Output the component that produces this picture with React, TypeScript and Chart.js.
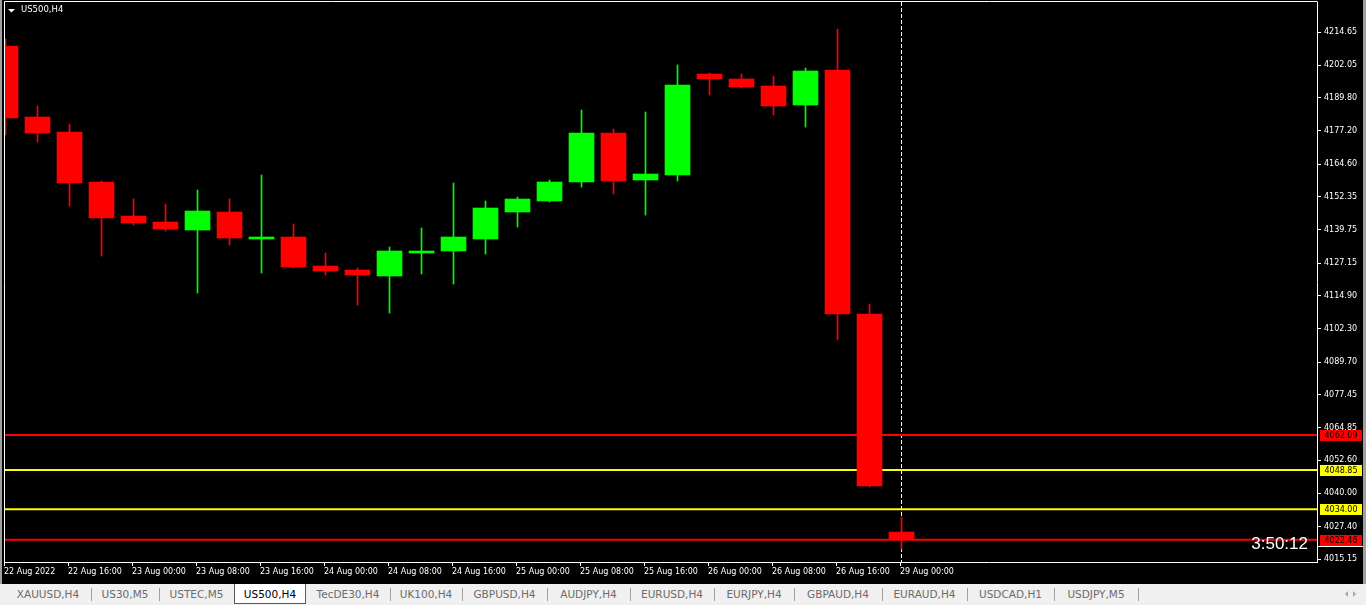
import React, { useEffect, useRef } from "react";
import { Chart, registerables } from "chart.js";

Chart.register(...registerables);

// ---- data ----
const symbolTitle = "US500,H4";
const timerText = "3:50:12";

const xTickLabels = [
  "22 Aug 2022", "22 Aug 16:00", "23 Aug 00:00", "23 Aug 08:00", "23 Aug 16:00",
  "24 Aug 00:00", "24 Aug 08:00", "24 Aug 16:00", "25 Aug 00:00", "25 Aug 08:00",
  "25 Aug 16:00", "26 Aug 00:00", "26 Aug 08:00", "26 Aug 16:00", "29 Aug 00:00",
];

const yTickValues = [
  4214.65, 4202.05, 4189.8, 4177.2, 4164.6, 4152.35, 4139.75, 4127.15, 4114.9,
  4102.3, 4089.7, 4077.45, 4064.85, 4052.6, 4040.0, 4027.4, 4015.15,
];

const opens = [
  4209.35, 4182.47, 4176.79, 4157.87, 4144.99, 4142.72, 4139.69, 4146.51, 4136.29, 4137.05,
  4126.07, 4124.55, 4122.28, 4130.99, 4131.75, 4136.29, 4146.51, 4150.67, 4157.87, 4176.41,
  4158.63, 4160.52, 4198.75, 4196.86, 4194.21, 4187.02, 4200.27, 4107.9, 4025.37,
];
const highs = [
  4212.0, 4186.64, 4179.82, 4158.25, 4151.43, 4149.54, 4154.84, 4151.43, 4160.52, 4141.97,
  4130.99, 4125.31, 4133.26, 4140.45, 4157.49, 4150.67, 4152.19, 4158.63, 4185.12, 4177.93,
  4184.37, 4202.16, 4199.13, 4198.75, 4197.99, 4201.02, 4215.79, 4111.68, 4031.05,
];
const lows = [
  4175.66, 4173.01, 4148.78, 4129.85, 4141.59, 4139.32, 4115.85, 4134.02, 4123.42, 4125.31,
  4122.66, 4111.3, 4108.27, 4123.04, 4119.25, 4130.61, 4140.83, 4150.29, 4155.97, 4153.32,
  4145.37, 4158.25, 4190.8, 4193.45, 4183.23, 4178.69, 4098.05, 4042.4, 4018.93,
];
const closes = [
  4182.09, 4176.41, 4157.49, 4144.24, 4142.35, 4140.07, 4146.89, 4136.67, 4137.05, 4125.69,
  4124.17, 4122.66, 4131.75, 4131.75, 4137.05, 4148.02, 4151.43, 4157.87, 4176.41, 4158.25,
  4160.89, 4194.59, 4196.86, 4193.83, 4186.64, 4199.89, 4107.9, 4042.78, 4022.46,
];

const levelValues = [4062.09, 4048.85, 4034.0, 4022.46];
const levelColors = ["#ff0000", "#ffff00", "#ffff00", "#ff0000"];

const currentBarIndex = 28;

const tabNames = [
  "XAUUSD,H4", "US30,M5", "USTEC,M5", "US500,H4", "TecDE30,H4", "UK100,H4", "GBPUSD,H4",
  "AUDJPY,H4", "EURUSD,H4", "EURJPY,H4", "GBPAUD,H4", "EURAUD,H4", "USDCAD,H1", "USDJPY,M5",
];
const tabEdges = [5, 91, 159, 234, 306, 390, 462, 547, 630, 714, 794, 882, 967, 1054, 1138];
const activeTab = 3;

// ---- style ----
const RED = "#ff0000";
const GREEN = "#00ff00";
const FONT = "DejaVu Sans";
const CANVAS_W = 1366;
const CANVAS_H = 584;

export default function App() {
  const ref = useRef<HTMLCanvasElement>(null);

  useEffect(() => {
    document.body.style.margin = "0";
    const canvas = ref.current!;
    const idx = opens.map((_, i) => i);
    const colors = idx.map((i) => (closes[i] >= opens[i] ? GREEN : RED));
    const xMin = -1.5 / 32;
    const xMax = (1317 - 5.5) / 32;
    const yMax = 4226.01;
    const yMin = 4014.02;

    const mt4Plugin = {
      id: "mt4",
      beforeDraw(chart: any) {
        const c = chart.ctx;
        c.save();
        c.fillStyle = "#000000";
        c.fillRect(0, 0, chart.width, chart.height);
        c.fillStyle = "#a0a0a0";
        c.fillRect(0, 0, 2, chart.height);
        c.fillRect(chart.width - 3, 0, 3, chart.height);
        c.restore();
      },
      beforeDatasetsDraw(chart: any) {
        const c = chart.ctx;
        const { top, bottom } = chart.chartArea;
        const x = Math.round(chart.scales.x.getPixelForValue(currentBarIndex) - 0.5) + 0.5;
        c.save();
        c.strokeStyle = "#ffffff";
        c.lineWidth = 1;
        c.setLineDash([4, 2]);
        c.beginPath();
        c.moveTo(x, top);
        c.lineTo(x, bottom);
        c.stroke();
        c.restore();
      },
      afterDraw(chart: any) {
        const c = chart.ctx;
        const { left, top, right, bottom } = chart.chartArea;
        c.save();
        c.strokeStyle = "#ffffff";
        c.lineWidth = 1;
        c.beginPath();
        c.moveTo(left + 0.5, bottom);
        c.lineTo(left + 0.5, top - 0.5);
        c.lineTo(right + 0.5, top - 0.5);
        c.stroke();

        c.font = `8px "${FONT}"`;
        c.textAlign = "center";
        c.textBaseline = "middle";
        levelValues.forEach((v, i) => {
          const y = Math.round(chart.scales.y.getPixelForValue(v));
          c.fillStyle = levelColors[i];
          c.fillRect(right + 3, y - 5, 42, 11);
          c.fillStyle = "#000000";
          c.fillText(v.toFixed(2), right + 24, y + 0.5);
          if (i === levelValues.length - 1) {
            c.fillStyle = "#ffffff";
            c.fillRect(right + 1, y + 6, 45, 1);
          }
        });

        c.fillStyle = "#ffffff";
        c.font = `17px "Liberation Sans"`;
        c.textAlign = "right";
        c.textBaseline = "alphabetic";
        c.fillText(timerText, 1308, 549);

        c.beginPath();
        c.moveTo(8, 9);
        c.lineTo(15, 9);
        c.lineTo(11.5, 12.5);
        c.closePath();
        c.fill();
        c.font = `8.5px "${FONT}"`;
        c.textAlign = "left";
        c.textBaseline = "middle";
        c.fillText(symbolTitle, 21, 9.5);
        c.restore();
      },
    };

    const chart = new Chart(canvas, {
      type: "bar",
      data: {
        datasets: [
          {
            type: "bar",
            label: "body",
            data: idx.map((i) => ({ x: i, y: [opens[i], closes[i]] })) as any,
            backgroundColor: colors,
            barThickness: 25,
            minBarLength: 1,
            grouped: false,
            order: 1,
          } as any,
          {
            type: "bar",
            label: "wick",
            data: idx.map((i) => ({ x: i, y: [lows[i], highs[i]] })) as any,
            backgroundColor: colors,
            barThickness: 1,
            grouped: false,
            order: 2,
          } as any,
          ...levelValues.map((v, i) => ({
            type: "line",
            label: "level" + i,
            data: [
              { x: xMin, y: v },
              { x: xMax, y: v },
            ],
            borderColor: levelColors[i],
            borderWidth: 2,
            pointRadius: 0,
            order: 3,
          })) as any,
        ],
      },
      options: {
        animation: false,
        responsive: false,
        devicePixelRatio: 1,
        events: [],
        layout: { padding: { left: 4, top: 2, right: 0, bottom: 0 }, autoPadding: false },
        plugins: { legend: { display: false }, tooltip: { enabled: false } },
        scales: {
          x: {
            type: "linear",
            min: xMin,
            max: xMax,
            offset: false,
            afterFit: (s: any) => {
              s.height = CANVAS_H - 562;
              s.paddingLeft = 0;
              s.paddingRight = 0;
              s.paddingTop = 0;
              s.paddingBottom = 0;
            },
            afterBuildTicks: (s: any) => {
              s.ticks = xTickLabels.map((_, k) => ({ value: 2 * k - 1.5 / 32 }));
            },
            grid: {
              offset: false,
              drawOnChartArea: false,
              drawTicks: true,
              tickLength: 4,
              color: "#ffffff",
            },
            border: { display: true, color: "#ffffff", width: 1 },
            ticks: {
              autoSkip: false,
              maxRotation: 0,
              minRotation: 0,
              align: "start",
              padding: 1,
              color: "#ffffff",
              font: { family: FONT, size: 8 },
              callback: (_v: any, i: number) => xTickLabels[i],
            },
          } as any,
          y: {
            type: "linear",
            position: "right",
            min: yMin,
            max: yMax,
            afterFit: (s: any) => {
              s.width = CANVAS_W - 1317;
              s.paddingTop = 0;
              s.paddingBottom = 0;
              s.paddingLeft = 0;
              s.paddingRight = 0;
            },
            afterBuildTicks: (s: any) => {
              s.ticks = yTickValues.map((v) => ({ value: v }));
            },
            grid: {
              drawOnChartArea: false,
              drawTicks: true,
              tickLength: 4,
              color: "#ffffff",
            },
            border: { display: true, color: "#ffffff", width: 1 },
            ticks: {
              autoSkip: false,
              padding: 3,
              color: "#ffffff",
              font: { family: FONT, size: 8 },
              callback: (v: any) => Number(v).toFixed(2),
            },
          } as any,
        },
      },
      plugins: [mt4Plugin],
    });

    return () => chart.destroy();
  }, []);

  const tabs = tabNames.map((name, i) => {
    const l = tabEdges[i];
    const r = i + 1 < tabEdges.length ? tabEdges[i + 1] : l + 84;
    const active = i === activeTab;
    return (
      <div
        key={name}
        style={{
          position: "absolute",
          left: l,
          top: 0,
          width: r - l,
          height: active ? 20 : 21,
          boxSizing: "border-box",
          background: active ? "#ffffff" : "transparent",
          borderLeft: active ? "1px solid #5a5a5a" : "none",
          borderRight: active ? "1px solid #5a5a5a" : "none",
          borderBottom: active ? "1px solid #5a5a5a" : "none",
          color: active ? "#000000" : "#6b6b6b",
          font: `10.5px "${FONT}"`,
          lineHeight: "21px",
          textAlign: "center",
          whiteSpace: "nowrap",
        }}
      >
        {name}
      </div>
    );
  });

  const seps = tabEdges
    .filter((x) => x !== tabEdges[activeTab] && x !== tabEdges[activeTab + 1] && x !== tabEdges[0])
    .map((x) => (
      <div
        key={"s" + x}
        style={{ position: "absolute", left: x, top: 4, width: 1, height: 13, background: "#a0a0a0" }}
      />
    ));

  return (
    <div style={{ position: "relative", width: CANVAS_W, height: 605, background: "#f0f0f0", overflow: "hidden" }}>
      <canvas ref={ref} width={CANVAS_W} height={CANVAS_H} style={{ display: "block" }} />
      <div style={{ position: "absolute", left: 0, top: CANVAS_H, width: CANVAS_W, height: 21, background: "#f0f0f0" }}>
        {tabs}
        {seps}
        <div
          style={{
            position: "absolute", left: 1345, top: 7, width: 0, height: 0,
            borderTop: "3.5px solid transparent", borderBottom: "3.5px solid transparent",
            borderRight: "3.5px solid #a8a8a8",
          }}
        />
        <div
          style={{
            position: "absolute", left: 1353, top: 7, width: 0, height: 0,
            borderTop: "3.5px solid transparent", borderBottom: "3.5px solid transparent",
            borderLeft: "3.5px solid #a8a8a8",
          }}
        />
      </div>
    </div>
  );
}
